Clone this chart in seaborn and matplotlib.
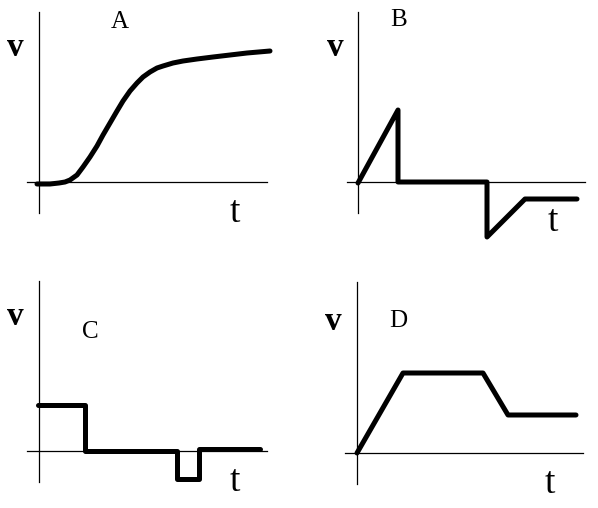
import numpy as np
import pandas as pd
import matplotlib.pyplot as plt
import seaborn as sns

sns.set_style("white")
plt.rcParams['font.family'] = ['Liberation Serif', 'DejaVu Serif']
plt.rcParams['text.color'] = 'black'

# curves, t and v measured from each panel's origin
t_a = [-2, 11, 20, 26, 31, 38, 44, 51, 58, 64, 71, 78, 84, 91, 98, 104,
       111, 118, 124, 134, 144, 158, 174, 191, 208, 231]
v_a = [-2, -2, -1, 0, 2, 7, 15, 25, 36, 47, 59, 71, 81, 91, 99, 105,
       110, 114, 116, 119, 121, 123, 125, 127, 129, 131]

t_b = [0, 40, 40, 129, 129, 167, 219]
v_b = [-1, 72, 0, 0, -55, -17, -17]

t_c = [-1, 46, 46, 138, 138, 160, 160, 221]
v_c = [46, 46, 0, 0, -28, -28, 2, 2]

t_d = [0, 46, 126, 151, 219]
v_d = [0, 80, 80, 38, 38]

letters = ['A', 'B', 'C', 'D']

W, H = 598, 508
fig = plt.figure(figsize=(W / 100, H / 100), dpi=100)

# panel boxes in pixels: origin x, origin y, left, right, top, bottom
panels = [
    (39, 182, 27, 267, 12, 213),
    (358, 182, 347, 585, 12, 213),
    (39, 451, 27, 267, 281, 482),
    (357, 453, 345, 583, 282, 484),
]
curves = [(t_a, v_a), (t_b, v_b), (t_c, v_c), (t_d, v_d)]
letter_pos = [(81, 160), (41, 162), (51, 119), (41, 132)]
t_pos = [(196, -31), (195, -40), (196, -31), (193, -31)]
v_pos = [(-24, 134), (-23, 134), (-24, 134), (-24, 132)]

for i in range(4):
    ox, oy, l, r, top, bot = panels[i]
    ax = fig.add_axes([l / W, 1 - bot / H, (r - l) / W, (bot - top) / H])
    ax.set_xlim(l - ox, r - ox)
    ax.set_ylim(oy - bot, oy - top)
    ax.patch.set_alpha(0)
    for s in ['top', 'right']:
        ax.spines[s].set_visible(False)
    ax.spines['left'].set_position(('data', 0))
    ax.spines['bottom'].set_position(('data', 0))
    for s in ['left', 'bottom']:
        ax.spines[s].set_linewidth(0.9)
        ax.spines[s].set_color('black')
    ax.set_xticks([])
    ax.set_yticks([])

    df = pd.DataFrame({'t': curves[i][0], 'v': curves[i][1]})
    sns.lineplot(data=df, x='t', y='v', ax=ax, color='black', lw=3.6,
                 sort=False, estimator=None, clip_on=False)
    ax.set_xlabel('')
    ax.set_ylabel('')

    ax.text(v_pos[i][0], v_pos[i][1], 'v', fontsize=24, fontweight='bold',
            ha='center', va='center')
    ax.text(letter_pos[i][0], letter_pos[i][1], letters[i], fontsize=18,
            ha='center', va='center')
    ax.text(t_pos[i][0], t_pos[i][1], 't', fontsize=27,
            ha='center', va='center')

fig.savefig('out.png', dpi=100)
